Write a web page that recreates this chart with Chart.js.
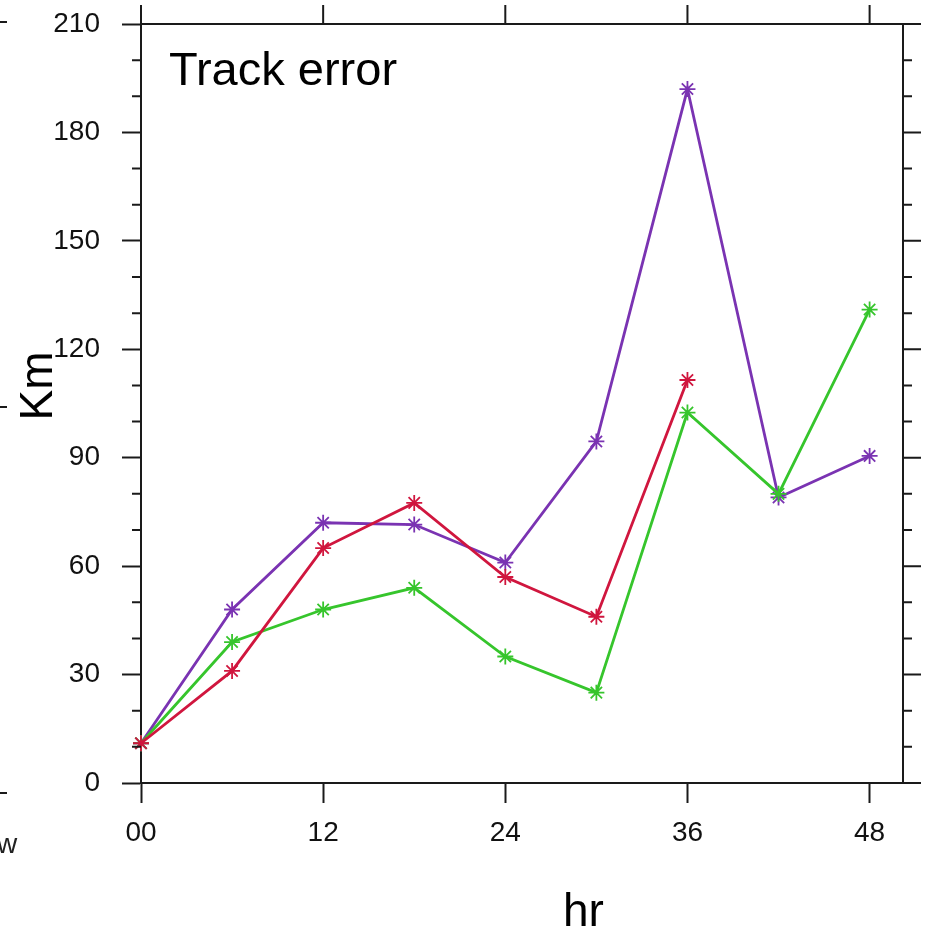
<!DOCTYPE html>
<html>
<head>
<meta charset="utf-8">
<script src="https://cdn.jsdelivr.net/npm/chart.js@4/dist/chart.umd.min.js"></script>
<style>
html,body{margin:0;padding:0;background:#fff;}
canvas{display:block;}
</style>
</head>
<body>
<canvas id="c" width="926" height="935"></canvas>
<script>
const hours = [0, 6, 12, 18, 24, 30, 36, 42, 48];
const purpleErr = [11, 48, 72, 71.5, 61, 94.5, 192, 79, 90.5];
const redErr = [11, 31, 65, 77.5, 57, 46, 111.5, null, null];
const greenErr = [11, 39, 48, 54, 35, 25, 102.5, 80, 131];
const xTickValues = [0, 12, 24, 36, 48];
const yMinorStep = 10;
const yMajorStep = 30;
const titleText = 'Track error';
const yTitle = 'Km';
const xTitle = 'hr';

const FONT = '"Liberation Sans", Arial, Helvetica, sans-serif';
const AXIS = '#1a1a1a';

function pts(vals) { return hours.map((h, i) => ({x: h, y: vals[i]})); }
function ds(label, vals, color) {
  return {
    label, data: pts(vals), borderColor: color, backgroundColor: color,
    borderWidth: 2.8, pointStyle: 'star', pointRadius: 8, pointBorderWidth: 1.8,
    pointBorderColor: color, pointBackgroundColor: color, spanGaps: false,
    tension: 0, clip: false
  };
}

const framePlugin = {
  id: 'frame',
  afterDraw(chart) {
    const ctx = chart.ctx;
    const {left, right, top, bottom} = chart.chartArea;
    const ys = chart.scales.y, xs = chart.scales.x;
    ctx.save();
    ctx.strokeStyle = AXIS;
    ctx.lineWidth = 2;
    ctx.lineCap = 'butt';
    ctx.beginPath();
    ctx.moveTo(left, top); ctx.lineTo(right, top);
    ctx.moveTo(right, top); ctx.lineTo(right, bottom);
    for (let v = ys.min; v <= ys.max + 1e-6; v += yMinorStep) {
      const py = ys.getPixelForValue(v);
      const major = Math.abs(v % yMajorStep) < 1e-6;
      if (!major) { ctx.moveTo(left, py); ctx.lineTo(left - 9, py); }
      ctx.moveTo(right, py); ctx.lineTo(right + (major ? 18 : 9), py);
    }
    xTickValues.forEach(v => {
      const px = xs.getPixelForValue(v);
      ctx.moveTo(px, top); ctx.lineTo(px, top - 19);
    });
    ctx.moveTo(0, 22); ctx.lineTo(7, 22);
    ctx.moveTo(0, 407); ctx.lineTo(7, 407);
    ctx.moveTo(0, 793); ctx.lineTo(7, 793);
    ctx.stroke();

    ctx.fillStyle = '#000';
    ctx.textAlign = 'left';
    ctx.textBaseline = 'alphabetic';
    ctx.font = '47px ' + FONT;
    ctx.fillText(titleText, left + 28, 85);
    ctx.font = '46px ' + FONT;
    ctx.fillText(xTitle, 563, 926);
    ctx.save();
    ctx.translate(52, 386);
    ctx.rotate(-Math.PI / 2);
    ctx.textAlign = 'center';
    ctx.fillText(yTitle, 0, 0);
    ctx.restore();
    ctx.font = '28px ' + FONT;
    ctx.fillStyle = '#222';
    ctx.fillText('w', -3, 853);
    ctx.restore();
  }
};

new Chart(document.getElementById('c'), {
  type: 'line',
  data: {
    datasets: [
      ds('Red', redErr, '#d0163e'),
      ds('Green', greenErr, '#36c52c'),
      ds('Purple', purpleErr, '#7a33b2')
    ]
  },
  options: {
    responsive: false,
    animation: false,
    layout: {padding: {top: 24, right: 23, left: 0, bottom: 0}},
    plugins: {legend: {display: false}, tooltip: {enabled: false}, title: {display: false}},
    scales: {
      x: {
        type: 'linear', min: 0, max: 50.2,
        afterFit(s) { s.height = 152; s.paddingLeft = 0; s.paddingRight = 0; },
        afterBuildTicks(s) { s.ticks = xTickValues.map(v => ({value: v})); },
        grid: {display: true, drawOnChartArea: false, drawTicks: true, tickLength: 20, tickColor: AXIS, tickWidth: 2},
        border: {display: true, color: AXIS, width: 2},
        ticks: {
          autoSkip: false, maxRotation: 0, padding: 13, color: '#111',
          font: {family: FONT, size: 28},
          callback: v => String(v).padStart(2, '0')
        }
      },
      y: {
        type: 'linear', min: 0, max: 210,
        afterFit(s) { s.width = 141; s.paddingTop = 0; s.paddingBottom = 0; },
        grid: {display: true, drawOnChartArea: false, drawTicks: true, tickLength: 19, tickColor: AXIS, tickWidth: 2},
        border: {display: true, color: AXIS, width: 2},
        ticks: {stepSize: yMajorStep, padding: 22, color: '#111', font: {family: FONT, size: 28}}
      }
    }
  },
  plugins: [framePlugin]
});
</script>
</body>
</html>
